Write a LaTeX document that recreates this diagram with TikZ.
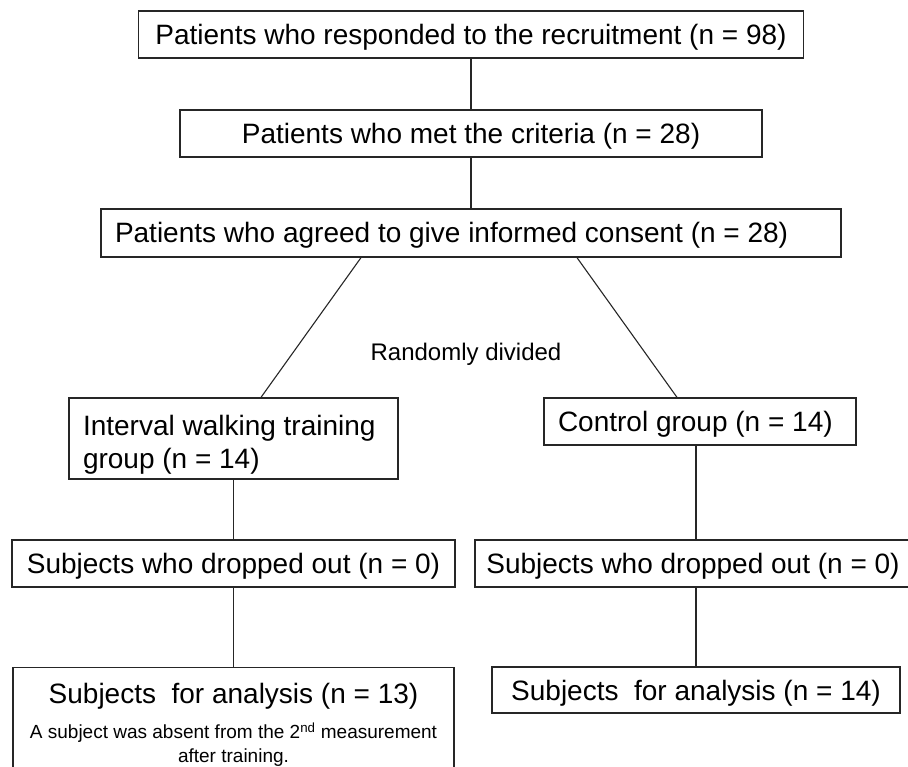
\documentclass[tikz,border=0pt]{standalone}
\usepackage{fontspec}
\setmainfont{Liberation Sans}

\newcommand{\notefont}{\fontsize{19}{24}\selectfont}

\tikzset{
  box/.style={draw=black!85, line width=1.3pt, inner sep=0pt, font=\fontsize{28}{33}\selectfont},
  oneline/.style={box, text height=20pt, text depth=0pt},
  link/.style={draw=black!85, line width=1.1pt}
}

\begin{document}
\begin{tikzpicture}[x=1pt, y=-1pt]
    % Page frame
    \useasboundingbox (0,0) rectangle (908,767);

    % Enrolment chain
    \node[oneline, minimum width=665pt, minimum height=47pt] (recruit) at (471,34.5) {Patients who responded to the recruitment (n = 98)};
    \node[oneline, minimum width=582pt, minimum height=47pt] (criteria) at (471,133.5) {Patients who met the criteria (n = 28)};
    \node[oneline, minimum height=48pt, inner xsep=14pt] (consent) at (471,233) {\makebox[712pt][l]{Patients who agreed to give informed consent (n = 28)}};

    % Randomisation
    \node[font=\fontsize{24}{28}\selectfont, inner sep=0pt, text height=17pt, text depth=0pt] (split) at (466,352) {Randomly divided};

    % The two groups
    \node[box, minimum height=81pt, inner xsep=14pt, align=left] (iwt) at (233.5,438.5) {\rule{0pt}{32pt}\makebox[301pt][l]{Interval walking training}\\group (n = 14)};
    \node[oneline, minimum height=47pt, inner xsep=14pt] (control) at (700,421.5) {\makebox[284pt][l]{Control group (n = 14)}};

    % Drop-outs
    \node[oneline, minimum width=443pt, minimum height=47pt] (dropL) at (233.5,563.5) {Subjects who dropped out (n = 0)};
    \node[oneline, minimum width=436pt, minimum height=47pt] (dropR) at (693,563.5) {Subjects who dropped out (n = 0)};

    % Analysed
    \node[box, anchor=north, minimum width=441pt, inner ysep=15pt, align=center] (anaL) at (233.5,667) {\rule{0pt}{21pt}Subjects\ \ for analysis (n = 13)\\[2pt]\notefont A subject was absent from the 2\textsuperscript{nd} measurement\\[-9pt]\notefont after training.\rule[-8pt]{0pt}{8pt}};
    \node[oneline, minimum width=408pt, minimum height=46pt] (anaR) at (696,690) {Subjects\ \ for analysis (n = 14)};

    % Connectors
    \draw[link] (recruit.south) -- (criteria.north);
    \draw[link] (criteria.south) -- (consent.north);
    \draw[link] ([xshift=-110pt]consent.south) -- ([xshift=27.5pt]iwt.north);
    \draw[link] ([xshift=106pt]consent.south) -- ([xshift=-23pt]control.north);
    \draw[link] (iwt.south) -- (dropL.north);
    \draw[link] (dropL.south) -- (anaL.north);
    \draw[link] (control.south -| anaR.north) -- (dropR.north -| anaR.north);
    \draw[link] (dropR.south -| anaR.north) -- (anaR.north);
\end{tikzpicture}
\end{document}
